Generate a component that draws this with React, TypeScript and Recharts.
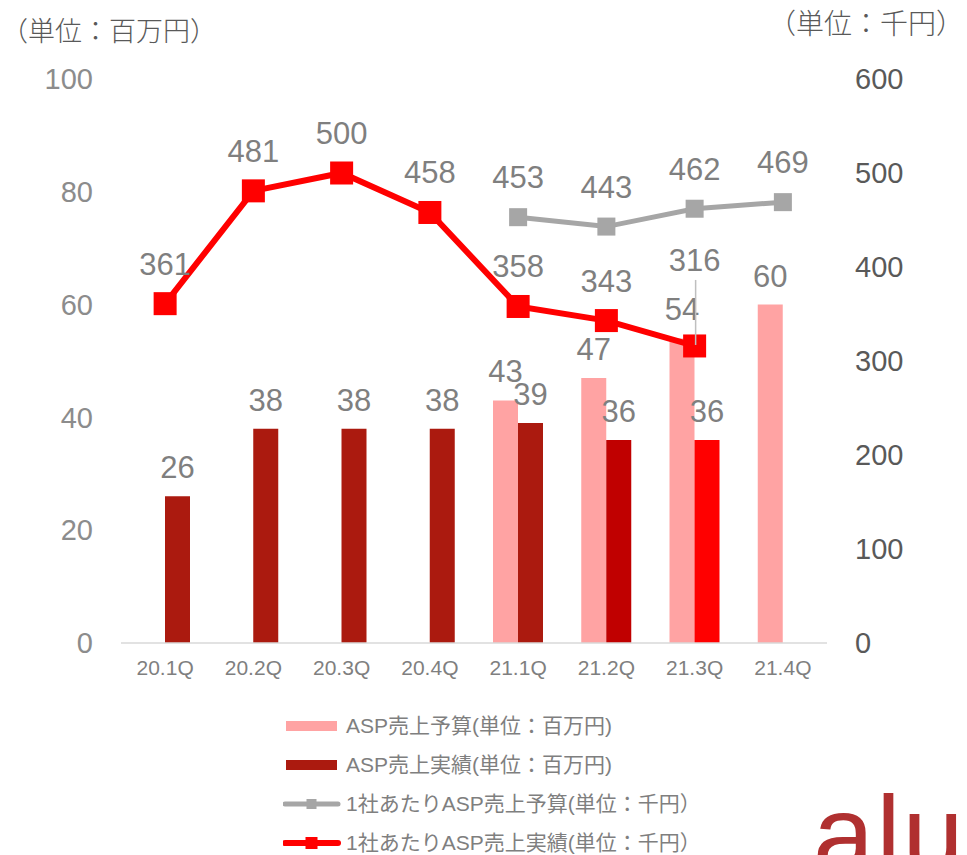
import React from 'react'
import { ComposedChart, Bar, Line, XAxis, YAxis, Cell, LabelList, Legend } from 'recharts'

const quarters = ['20.1Q', '20.2Q', '20.3Q', '20.4Q', '21.1Q', '21.2Q', '21.3Q', '21.4Q']
const salesBudget = [null, null, null, null, 43, 47, 54, 60]
const salesActual = [26, 38, 38, 38, 39, 36, 36, null]
const perCompanyBudget = [null, null, null, null, 453, 443, 462, 469]
const perCompanyActual = [361, 481, 500, 458, 358, 343, 316, null]
const leftTicks = [0, 20, 40, 60, 80, 100]
const rightTicks = [0, 100, 200, 300, 400, 500, 600]

const seriesNames = [
  'ASP売上予算(単位：百万円)',
  'ASP売上実績(単位：百万円)',
  '1社あたりASP売上予算(単位：千円）',
  '1社あたりASP売上実績(単位：千円）',
]

const data = quarters.map((q, i) => ({
  quarter: q,
  budget: salesBudget[i],
  actual: salesActual[i],
  pcBudget: perCompanyBudget[i],
  pcActual: perCompanyActual[i],
}))

const FONT = '"Liberation Sans", Arial, "Noto Sans CJK JP", sans-serif'
const LABEL = '#7f7f7f'
const PINK = '#ffa3a3'
const DARK = '#ab1a0f'
const RED = '#ff0000'
const GRAY = '#a6a6a6'

const actualColor = (i: number) => (i === 5 ? '#c00000' : i === 6 ? RED : DARK)

function barLabel(p: any) {
  if (p.value == null) return null
  return (
    <text x={p.x + p.width / 2} y={p.y - 18} textAnchor="middle" fill={LABEL} fontSize={31} fontFamily={FONT}>
      {p.value}
    </text>
  )
}

function lineLabel(p: any, lifted?: number) {
  if (p.value == null) return null
  if (p.index === lifted) {
    return (
      <g>
        <line x1={p.x + 1} x2={p.x + 1} y1={p.y - 66} y2={p.y - 1} stroke="#bfbfbf" strokeWidth={1.5} />
        <text x={p.x} y={p.y - 75} textAnchor="middle" fill={LABEL} fontSize={31} fontFamily={FONT}>
          {p.value}
        </text>
      </g>
    )
  }
  return (
    <text x={p.x} y={p.y - 29} textAnchor="middle" fill={LABEL} fontSize={31} fontFamily={FONT}>
      {p.value}
    </text>
  )
}

function squareDot(size: number, color: string) {
  return (p: any) => {
    const { cx, cy, index } = p
    const v = p.payload ? p.value : null
    if (cx == null || cy == null || v == null || (Array.isArray(v) && v[1] == null)) return <g key={'d' + index} />
    return <rect key={'d' + index} x={cx - size / 2} y={cy - size / 2} width={size} height={size} fill={color} />
  }
}

function LegendBox() {
  const rows = [
    { type: 'bar', color: PINK },
    { type: 'bar', color: DARK },
    { type: 'line', color: GRAY, w: 5, m: 10 },
    { type: 'line', color: RED, w: 6, m: 12 },
  ]
  return (
    <div style={{ fontFamily: FONT }}>
      {rows.map((r, i) => (
        <div key={i} style={{ display: 'flex', alignItems: 'center', height: 39 }}>
          <svg width={63} height={20} style={{ flex: 'none' }}>
            {r.type === 'bar' ? (
              <rect x={3} y={5} width={51} height={10} fill={r.color} />
            ) : (
              <g>
                <line x1={2} x2={55} y1={10} y2={10} stroke={r.color} strokeWidth={r.w} strokeLinecap="round" />
                <rect x={28.5 - (r.m as number) / 2} y={10 - (r.m as number) / 2} width={r.m} height={r.m} fill={r.color} />
              </g>
            )}
          </svg>
          <span style={{ fontSize: 21, lineHeight: 1, color: LABEL, whiteSpace: 'nowrap' }}>{seriesNames[i]}</span>
        </div>
      ))}
    </div>
  )
}

export default function App() {
  return (
    <div style={{ position: 'absolute', left: 0, top: 0, width: 967, height: 855, overflow: 'hidden', background: '#fff', fontFamily: FONT }}>
      <div style={{ position: 'absolute', left: 1, top: 16, fontSize: 27, lineHeight: 1, color: '#595959', fontWeight: 300, fontFamily: '"Noto Sans CJK JP", sans-serif' }}>
        （単位：百万円）
      </div>
      <div style={{ position: 'absolute', left: 768, top: 8, fontSize: 28, lineHeight: 1, color: '#595959', fontWeight: 300, fontFamily: '"Noto Sans CJK JP", sans-serif' }}>
        （単位：千円）
      </div>
      <ComposedChart
        width={967}
        height={855}
        data={data}
        margin={{ top: 79, right: 0, bottom: 182, left: 0 }}
        barGap={0}
        barSize={25}
      >
        <XAxis
          dataKey="quarter"
          interval={0}
          tickLine={false}
          axisLine={{ stroke: '#d9d9d9', strokeWidth: 1.5 }}
          tick={{ fontSize: 21, fill: LABEL, fontFamily: FONT }}
          tickMargin={11}
          height={30}
        />
        <YAxis
          yAxisId="left"
          domain={[0, 100]}
          ticks={leftTicks}
          axisLine={false}
          tickLine={false}
          tickMargin={22}
          width={121}
          tick={{ fontSize: 29, fill: '#8c8c8c', fontFamily: FONT }}
        />
        <YAxis
          yAxisId="right"
          orientation="right"
          domain={[0, 600]}
          ticks={rightTicks}
          axisLine={false}
          tickLine={false}
          tickMargin={22}
          width={140}
          tick={{ fontSize: 29, fill: '#595959', fontFamily: FONT, textAnchor: 'start' }}
        />
        <Bar yAxisId="left" dataKey="budget" fill={PINK} isAnimationActive={false}>
          <LabelList dataKey="budget" content={barLabel} />
        </Bar>
        <Bar yAxisId="left" dataKey="actual" fill={DARK} isAnimationActive={false}>
          {data.map((_, i) => (
            <Cell key={i} fill={actualColor(i)} />
          ))}
          <LabelList dataKey="actual" content={barLabel} />
        </Bar>
        <Line
          yAxisId="right"
          dataKey="pcBudget"
          stroke={GRAY}
          strokeWidth={5}
          dot={squareDot(18, GRAY)}
          activeDot={false}
          isAnimationActive={false}
        >
          <LabelList dataKey="pcBudget" content={(p: any) => lineLabel(p)} />
        </Line>
        <Line
          yAxisId="right"
          dataKey="pcActual"
          stroke={RED}
          strokeWidth={6}
          dot={squareDot(23, RED)}
          activeDot={false}
          isAnimationActive={false}
        >
          <LabelList dataKey="pcActual" content={(p: any) => lineLabel(p, 6)} />
        </Line>
        <Legend
          layout="vertical"
          align="center"
          verticalAlign="middle"
          content={() => <LegendBox />}
          wrapperStyle={{ left: 283, top: 706, width: 520 }}
        />
      </ComposedChart>
      <div
        style={{
          position: 'absolute',
          left: 813,
          top: 779,
          fontSize: 110,
          lineHeight: 1,
          color: '#b03030',
          fontFamily: '"Liberation Sans", Arial, sans-serif',
          letterSpacing: 2,
          whiteSpace: 'nowrap',
        }}
      >
        alu
      </div>
    </div>
  )
}
